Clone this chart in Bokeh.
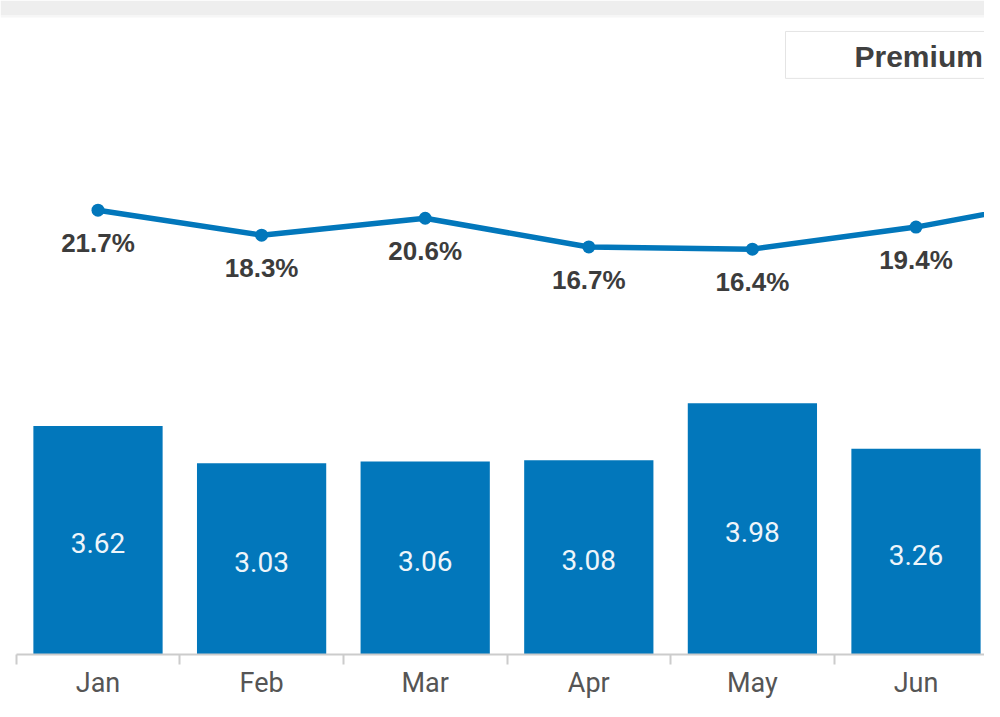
from bokeh.plotting import figure
from bokeh.models import Range1d, LinearAxis, FixedTicker, ColumnDataSource
from bokeh.core.properties import value
from bokeh.embed import file_html
from bokeh.resources import INLINE

# ---- data ----
months = ["Jan", "Feb", "Mar", "Apr", "May", "Jun", "Jul"]
bar_values = [3.62, 3.03, 3.06, 3.08, 3.98, 3.26]
pct_values = [21.7, 18.3, 20.6, 16.7, 16.4, 19.4, 23.5]
legend_title = "Premium"

# ---- layout constants (pixels inside the figure) ----
W, H = 984, 701
FRAME_H = 655                 # axis line position
PX_PER_CAT = 163.6
X0_PX = 15.7                  # pixel position of the first category boundary
BAR_PX_PER_UNIT = 63.2
PCT_PX_PER_UNIT = 7.36
PCT_REF_VAL, PCT_REF_PX = 21.7, 210.0

BLUE = "#0277bb"

x_start = -0.5 - X0_PX / PX_PER_CAT
x_end = -0.5 + (W - X0_PX) / PX_PER_CAT
y_end = FRAME_H / BAR_PX_PER_UNIT
pct_top = PCT_REF_VAL + PCT_REF_PX / PCT_PX_PER_UNIT
pct_bottom = PCT_REF_VAL - (FRAME_H - PCT_REF_PX) / PCT_PX_PER_UNIT

p = figure(width=W, height=H, output_backend="svg", toolbar_location=None,
           x_range=Range1d(x_start, x_end), y_range=Range1d(0, y_end),
           x_axis_type=None, y_axis_type=None,
           min_border_left=0, min_border_right=0, min_border_top=0,
           min_border_bottom=H - FRAME_H)
p.outline_line_color = None
p.background_fill_color = "white"
p.border_fill_color = "white"
p.grid.visible = False

p.extra_y_ranges = {"pct": Range1d(pct_bottom, pct_top), "py": Range1d(FRAME_H, 0)}
p.extra_x_ranges = {"px": Range1d(0, W)}

# ---- decorations: top band and legend box ----
p.quad(left=[0], right=[W], top=[0], bottom=[15], fill_color="#eeeeee", line_color=None,
       x_range_name="px", y_range_name="py")
p.quad(left=[0], right=[W], top=[15], bottom=[17], fill_color="#f6f6f6", line_color=None,
       x_range_name="px", y_range_name="py")
p.quad(left=[785], right=[W + 20], top=[31], bottom=[78], fill_color="white",
       line_color="#e4e4e4", line_width=1, x_range_name="px", y_range_name="py")
p.text(x=[854], y=[56], text=[legend_title], text_font=value("Liberation Sans"),
       text_font_style="bold", text_font_size="30px", text_color="#404040",
       text_align="left", text_baseline="alphabetic",
       x_range_name="px", y_range_name="py")

# ---- bars ----
idx_bars = list(range(len(bar_values)))
bsrc = ColumnDataSource(dict(x=idx_bars, top=bar_values,
                             mid=[v / 2 for v in bar_values],
                             lbl=[f"{v:.2f}" for v in bar_values]))
p.vbar(x="x", top="top", bottom=0, width=0.79, source=bsrc,
       fill_color=BLUE, line_color=None)
p.text(x="x", y="mid", text="lbl", source=bsrc, text_font=value("Roboto"),
       text_font_size="28px", text_color="#eef5fa", text_align="center",
       text_baseline="alphabetic", y_offset=3)

# ---- line ----
idx_line = list(range(len(pct_values)))
lsrc = ColumnDataSource(dict(x=idx_line, y=pct_values))
p.line(x="x", y="y", source=lsrc, y_range_name="pct", line_color=BLUE, line_width=5.5)
p.scatter(x="x", y="y", source=lsrc, y_range_name="pct", size=13,
          fill_color=BLUE, line_color=None)
# labels for the points that are in view (those with a bar beneath)
nv = len(bar_values)
tsrc = ColumnDataSource(dict(x=idx_line[:nv], y=pct_values[:nv],
                             lbl=[f"{v:.1f}%" for v in pct_values[:nv]]))
p.text(x="x", y="y", text="lbl", source=tsrc, y_range_name="pct",
       text_font=value("Liberation Sans"), text_font_style="bold",
       text_font_size="26px", text_color="#3c3c3c", text_align="center",
       text_baseline="alphabetic", y_offset=33)

# ---- x axis: month labels centred, tick marks on the boundaries ----
n = len(months)
boundaries = [i - 0.5 for i in range(n + 1)]
xaxis = LinearAxis(ticker=FixedTicker(ticks=list(range(n)), minor_ticks=boundaries),
                   bounds=(-0.5, n - 0.5))
xaxis.major_label_overrides = {i: m for i, m in enumerate(months)}
xaxis.axis_line_color = "#cccccc"
xaxis.axis_line_width = 2
xaxis.major_tick_line_color = None
xaxis.major_tick_out = 10
xaxis.major_tick_in = 0
xaxis.minor_tick_line_color = "#cccccc"
xaxis.minor_tick_line_width = 2
xaxis.minor_tick_out = 10
xaxis.minor_tick_in = 0
xaxis.major_label_standoff = 2
xaxis.major_label_text_font = "Roboto"
xaxis.major_label_text_font_size = "27px"
xaxis.major_label_text_color = "#555555"
p.add_layout(xaxis, "below")

open("out.html", "w").write(file_html(p, INLINE))
